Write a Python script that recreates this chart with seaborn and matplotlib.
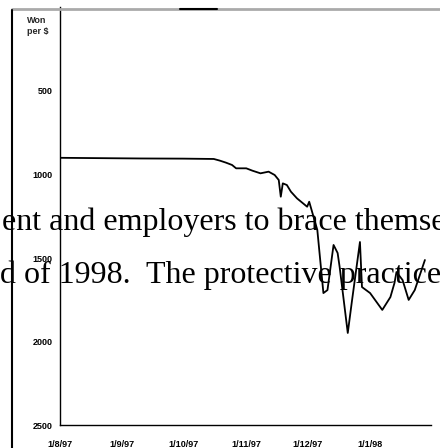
import matplotlib
matplotlib.use("Agg")
import matplotlib.pyplot as plt
from matplotlib.lines import Line2D
import pandas as pd
import seaborn as sns

# ---- data ----
dates = ["1997-08-01", "1997-08-20", "1997-09-10", "1997-10-01", "1997-10-16",
         "1997-10-19", "1997-10-22", "1997-10-25", "1997-10-27", "1997-11-01",
         "1997-11-04", "1997-11-08", "1997-11-12", "1997-11-15", "1997-11-17",
         "1997-11-18", "1997-11-19", "1997-11-21", "1997-11-23", "1997-11-26",
         "1997-11-28", "1997-12-01", "1997-12-02", "1997-12-06", "1997-12-09",
         "1997-12-11", "1997-12-14", "1997-12-16", "1997-12-17", "1997-12-21",
         "1997-12-23", "1997-12-27", "1997-12-28", "1998-01-01", "1998-01-07",
         "1998-01-11", "1998-01-13", "1998-01-14", "1998-01-17", "1998-01-20",
         "1998-01-23", "1998-01-28"]
won_per_usd = [900, 902, 904, 905, 907,
               917, 929, 943, 963, 963,
               977, 993, 983, 1003, 1033,
               1133, 1053, 1063, 1103, 1143,
               1163, 1193, 1163, 1332, 1710,
               1692, 1422, 1470, 1554, 1949,
               1763, 1404, 1674, 1710, 1811,
               1734, 1650, 1584, 1632, 1751,
               1692, 1512]
y_ticks = [500, 1000, 1500, 2000, 2500]
x_tick_dates = ["1997-08-01", "1997-09-01", "1997-10-01", "1997-11-01",
                "1997-12-01", "1998-01-01"]
x_tick_labels = ["1/8/97", "1/9/97", "1/10/97", "1/11/97", "1/12/97", "1/1/98"]
y_label = "Won\nper $"
overlay_line1 = "ent and employers to brace themse"
overlay_line2 = "d of 1998.  The protective practice"

df = pd.DataFrame({"date": pd.to_datetime(dates), "won": won_per_usd})

sns.set_theme(style="white")
plt.rcParams["font.family"] = ["Liberation Sans", "DejaVu Sans"]

W, H = 440, 448
fig = plt.figure(figsize=(W / 100, H / 100), dpi=100)
fig.patch.set_facecolor("white")

ax_l, ax_r, ax_t, ax_b = 59.5, 431, 7.5, 425
ax = fig.add_axes([ax_l / W, 1 - ax_b / H, (ax_r - ax_l) / W, (ax_b - ax_t) / H])

sns.lineplot(data=df, x="date", y="won", ax=ax, color="black", linewidth=1.3)

ax.set_ylim(2500, 0)
ax.set_xlim(pd.Timestamp("1997-08-01"), pd.Timestamp("1998-01-31"))
ax.set_yticks(y_ticks)
ax.set_yticklabels([str(v) for v in y_ticks], fontsize=6.5, fontweight="bold")
ax.set_xticks(pd.to_datetime(x_tick_dates))
ax.set_xticklabels(x_tick_labels, fontsize=6.5, fontweight="bold")
ax.set_xlabel("")
ax.set_ylabel("")
ax.tick_params(axis="y", direction="out", length=3, width=0.8, pad=2, colors="black")
ax.tick_params(axis="x", direction="inout", length=3, width=0.8, pad=9, colors="black")
for s in ["top", "right"]:
    ax.spines[s].set_visible(False)
for s in ["left", "bottom"]:
    ax.spines[s].set_color("black")
    ax.spines[s].set_linewidth(1.0)
ax.set_facecolor("white")
ax.grid(False)

# unit label at top left
fig.text(27 / W, 1 - 16 / H, y_label, fontsize=6.5, fontweight="bold",
         va="top", ha="left", linespacing=1.35)

# page decorations
fig.add_artist(Line2D([12 / W, 1], [1 - 9 / H, 1 - 9 / H], transform=fig.transFigure,
                      color="#aaaaaa", linewidth=2))
fig.add_artist(Line2D([180 / W, 217 / W], [1 - 9 / H, 1 - 9 / H], transform=fig.transFigure,
                      color="black", linewidth=1.5))
fig.add_artist(Line2D([12 / W, 12 / W], [0, 1 - 10 / H], transform=fig.transFigure,
                      color="black", linewidth=1.5))

# overlaid document text
fig.text(1.5 / W, 1 - 230 / H, overlay_line1, fontsize=23, va="baseline", ha="left",
         family=["Liberation Serif", "DejaVu Serif"], color="black")
fig.text(0 / W, 1 - 283 / H, overlay_line2, fontsize=23, va="baseline", ha="left",
         family=["Liberation Serif", "DejaVu Serif"], color="black")

fig.savefig("out.png", dpi=100)
